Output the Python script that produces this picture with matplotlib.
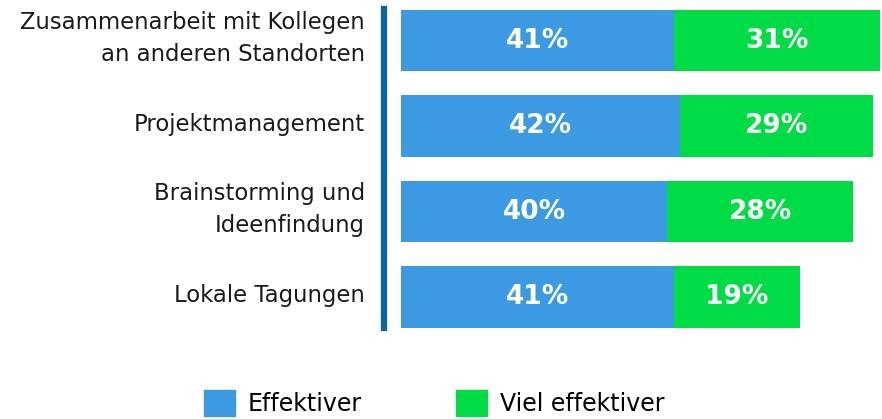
import matplotlib
matplotlib.use("Agg")
import matplotlib.pyplot as plt
from matplotlib.patches import Patch

categories = ["Zusammenarbeit mit Kollegen\nan anderen Standorten", "Projektmanagement",
              "Brainstorming und\nIdeenfindung", "Lokale Tagungen"]
effektiver = [41, 42, 40, 41]
viel_effektiver = [31, 29, 28, 19]
series_names = ["Effektiver", "Viel effektiver"]

blue = "#3b9ae1"
green = "#00dc46"
line_col = "#0563a6"

fig = plt.figure(figsize=(8.82, 4.19), dpi=100)
ax = fig.add_axes([401/882, 91/419, (882-401)/882, (410-91)/419])

y = list(range(len(categories)))
h = 0.72
ax.barh(y, effektiver, height=h, color=blue, label=series_names[0])
ax.barh(y, viel_effektiver, left=effektiver, height=h, color=green, label=series_names[1])

for i in y:
    ax.text(effektiver[i]/2, i, f"{effektiver[i]}%", ha="center", va="center",
            color="white", fontsize=19, fontweight="bold")
    ax.text(effektiver[i] + viel_effektiver[i]/2, i, f"{viel_effektiver[i]}%", ha="center",
            va="center", color="white", fontsize=19, fontweight="bold")

ax.set_ylim(3 + h/2, -h/2 - 0.01)
ax.set_xlim(0, 72.3)
ax.set_yticks(y)
ax.set_yticklabels([])
ax.tick_params(axis="y", length=0)
for i, cat in enumerate(categories):
    ax.annotate(cat, xy=(0, i), xycoords=("axes fraction", "data"),
                xytext=(-36, 2), textcoords="offset pixels",
                ha="right", va="center", fontsize=16.4, color="#1a1a1a",
                linespacing=1.5, multialignment="right")
ax.set_xticks([])
for s in ["top", "right", "bottom"]:
    ax.spines[s].set_visible(False)
ax.spines["left"].set_position(("outward", 12.2))
ax.spines["left"].set_linewidth(4.5)
ax.spines["left"].set_color(line_col)

handles = [Patch(color=blue), Patch(color=green)]
fig.legend(handles, series_names, loc="upper left", bbox_to_anchor=(204/882, 1 - 390/419),
           ncol=2, frameon=False, fontsize=17, handlelength=1.31, handleheight=1.31,
           columnspacing=4.0, handletextpad=0.55, borderpad=0, borderaxespad=0)

fig.savefig("out.png", dpi=100)
